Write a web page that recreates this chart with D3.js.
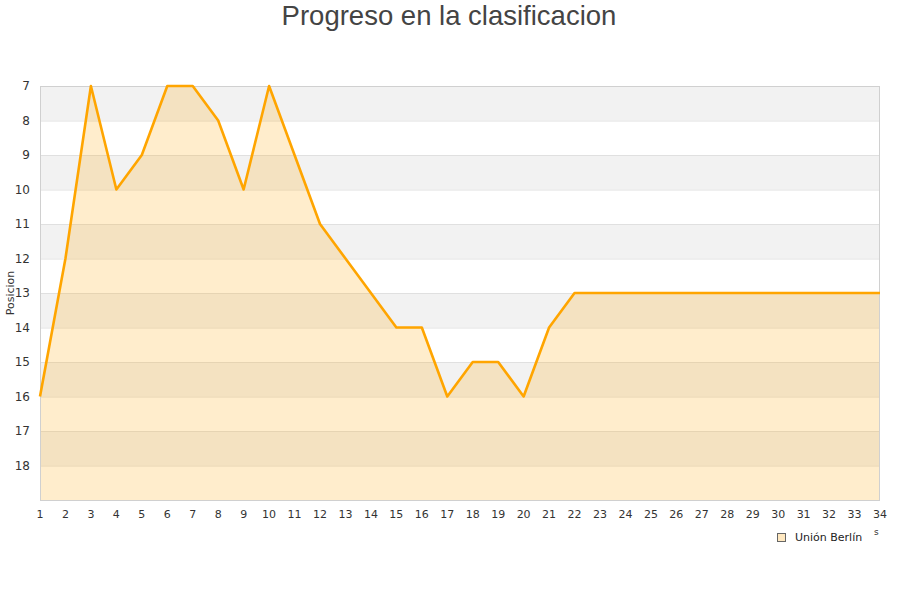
<!DOCTYPE html>
<html><head><meta charset="utf-8">
<script src="https://cdn.jsdelivr.net/npm/d3@7"></script>
<style>body{margin:0;background:#fff;font-family:"DejaVu Sans",sans-serif;}</style>
</head><body><svg id="c" width="900" height="600"></svg>
<script>
const jornadas = d3.range(1, 35);
const posiciones = [16,12,7,10,9,7,7,8,10,7,9,11,12,13,14,14,16,15,15,16,14,13,13,13,13,13,13,13,13,13,13,13,13,13];
const yTicks = [7,8,9,10,11,12,13,14,15,16,17,18];
const serieNombre = "Unión Berlín";
const titulo = "Progreso en la clasificacion";
const yTitulo = "Posicion";

const svg = d3.select("#c");
const L = 40, R = 880, T = 86, B = 500;
const x = d3.scaleLinear().domain([1, 34]).range([L, R]);
const y = d3.scaleLinear().domain([7, 19]).range([T, B]);

const bands = d3.range(7, 19);
svg.selectAll("rect.band").data(bands).enter().append("rect")
  .attr("x", L).attr("width", R - L)
  .attr("y", d => y(d)).attr("height", d => y(d + 1) - y(d))
  .attr("fill", (d, i) => i % 2 === 0 ? "#f2f2f2" : "#ffffff");
svg.selectAll("line.grid").data(d3.range(7, 20)).enter().append("line")
  .attr("x1", L).attr("x2", R).attr("y1", d => y(d) + 0.5).attr("y2", d => y(d) + 0.5)
  .attr("stroke", "#e0e0e0").attr("stroke-width", 1);

const data = jornadas.map((j, i) => ({j, p: posiciones[i]}));
svg.append("path").datum(data)
  .attr("d", d3.area().x(d => x(d.j)).y0(B).y1(d => y(d.p)))
  .attr("fill", "rgba(255,165,0,0.2)");
svg.append("rect").attr("x", L + 0.5).attr("y", T + 0.5).attr("width", R - L - 1).attr("height", B - T)
  .attr("fill", "none").attr("stroke", "#d0d0d0");
svg.append("path").datum(data)
  .attr("d", d3.line().x(d => x(d.j)).y(d => y(d.p)))
  .attr("fill", "none").attr("stroke", "#ffa500").attr("stroke-width", 2.6).attr("stroke-linejoin", "round");

svg.selectAll("text.yl").data(yTicks).enter().append("text")
  .attr("x", 30).attr("y", d => y(d) + 4).attr("text-anchor", "end")
  .attr("font-size", 12).attr("fill", "#333").text(d => d);
svg.selectAll("text.xl").data(jornadas).enter().append("text")
  .attr("x", d => x(d)).attr("y", 518).attr("text-anchor", "middle")
  .attr("font-size", 11).attr("fill", "#333").text(d => d);

svg.append("text").attr("x", 449).attr("y", 25).attr("text-anchor", "middle")
  .attr("font-family", "Liberation Sans, Arial, sans-serif")
  .attr("font-size", 27.5).attr("fill", "#444").text(titulo);
svg.append("text").attr("transform", "translate(14,293) rotate(-90)").attr("text-anchor", "middle")
  .attr("font-size", 11).attr("fill", "#333").text(yTitulo);

svg.append("rect").attr("x", 777.5).attr("y", 533.5).attr("width", 8).attr("height", 8)
  .attr("fill", "#ffe8c0").attr("stroke", "#666").attr("stroke-width", 1);
svg.append("text").attr("x", 795).attr("y", 541).attr("font-size", 11).attr("fill", "#222").text(serieNombre);
svg.append("text").attr("x", 874).attr("y", 535).attr("font-size", 9).attr("fill", "#333").text("s");
</script></body></html>
